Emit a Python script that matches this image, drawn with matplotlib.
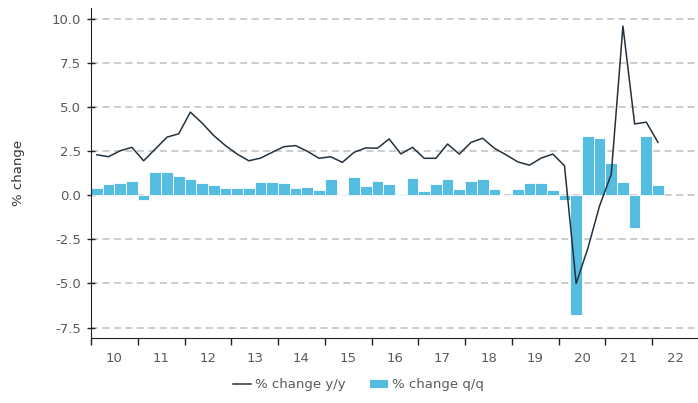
import matplotlib.pyplot as plt
import numpy as np

# quarterly data, 2010Q1 .. 2022Q1
start_year = 2010
qq_change = [0.40, 0.65, 0.69, 0.84,
             -0.27, 1.30, 1.30, 1.07,
             0.95, 0.72, 0.59, 0.42,
             0.42, 0.40, 0.76, 0.76,
             0.72, 0.44, 0.48, 0.29,
             0.90, 0.05, 1.05, 0.53,
             0.84, 0.62, 0.08, 1.00,
             0.23, 0.67, 0.93, 0.36,
             0.82, 0.90, 0.38, 0.03,
             0.38, 0.72, 0.72, 0.29,
             -0.27, -6.80, 3.39, 3.24,
             1.83, 0.76, -1.85, 3.39,
             0.61]
yy_change = [2.30, 2.19, 2.53, 2.72,
             1.96, 2.63, 3.30, 3.49,
             4.72, 4.10, 3.39, 2.82,
             2.34, 1.96, 2.11, 2.44,
             2.76, 2.82, 2.50, 2.10,
             2.19, 1.87, 2.44, 2.69,
             2.67, 3.20, 2.35, 2.72,
             2.10, 2.10, 2.91, 2.34,
             3.00, 3.24, 2.67, 2.30,
             1.90, 1.71, 2.11, 2.34,
             1.68, -5.00, -3.00, -0.60,
             1.20, 9.60, 4.05, 4.15,
             3.00]
year_labels = ['10', '11', '12', '13', '14', '15', '16', '17', '18', '19', '20', '21', '22']
y_ticks = [-7.5, -5.0, -2.5, 0.0, 2.5, 5.0, 7.5, 10.0]
y_tick_labels = ['-7.5', '-5.0', '-2.5', '0.0', '2.5', '5.0', '7.5', '10.0']

bar_color = '#55bde0'
line_color = '#23323e'
text_color = '#5a5a5a'

# quarter centres in fractional years
x = start_year + np.arange(len(qq_change)) * 0.25 + 0.125

fig = plt.figure(figsize=(6.98, 4.03), dpi=100)
ax = fig.add_axes([0.1304, 0.161, 0.8696, 0.818])

ax.bar(x, qq_change, width=0.25, color=bar_color, edgecolor='white',
       linewidth=0.6, zorder=2, label='% change q/q')
ax.plot(x, yy_change, color=line_color, linewidth=1.1, zorder=3,
        label='% change y/y')

ax.set_xlim(start_year, start_year + len(year_labels) - 0.02)
ax.set_ylim(-8.1, 10.6)

# year boundaries get ticks, labels sit mid-year
ax.set_xticks(start_year + np.arange(len(year_labels)))
ax.set_xticklabels([])
ax.set_xticks(start_year + np.arange(len(year_labels)) + 0.5, minor=True)
ax.set_xticklabels(year_labels, minor=True)
ax.tick_params(axis='x', which='major', direction='out', length=5, width=1, color='#222222')
ax.tick_params(axis='x', which='minor', length=0, pad=10, labelsize=9.5, labelcolor=text_color)

ax.set_yticks(y_ticks)
ax.set_yticklabels(y_tick_labels)
ax.tick_params(axis='y', direction='inout', length=6, width=1, color='#222222',
               labelsize=9.5, labelcolor=text_color, pad=4)

ax.yaxis.grid(True, color='#cccccc', linewidth=1.4, linestyle=(0, (3.6, 2.3)), zorder=0)
ax.set_axisbelow(True)

for side in ['top', 'right']:
    ax.spines[side].set_visible(False)
ax.spines['left'].set_color('#222222')
ax.spines['bottom'].set_color('#222222')

ax.set_ylabel('% change', fontsize=9.5, color='#333333')
ax.yaxis.set_label_coords(-0.108, 0.5)

handles, labels = ax.get_legend_handles_labels()
order = [labels.index('% change y/y'), labels.index('% change q/q')]
fig.legend([handles[i] for i in order], [labels[i] for i in order],
           loc='center', bbox_to_anchor=(0.513, 0.045), ncol=2, frameon=False,
           fontsize=9.5, labelcolor=text_color, handlelength=1.4, handletextpad=0.3,
           columnspacing=1.8)

plt.savefig('out.png', dpi=100)
